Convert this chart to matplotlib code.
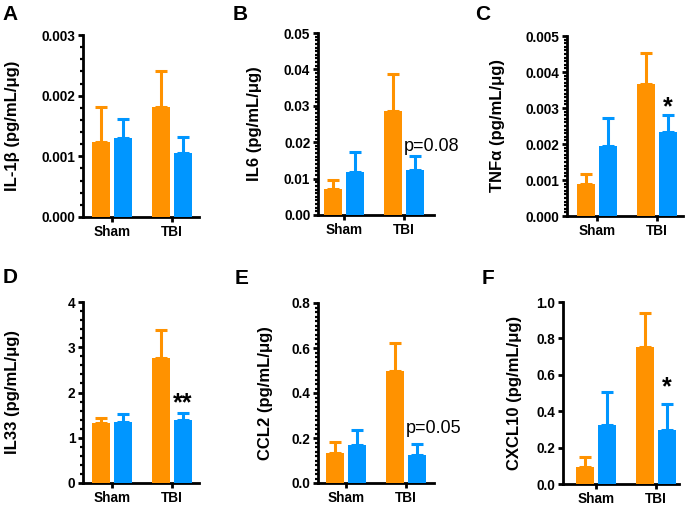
import matplotlib
matplotlib.use("Agg")
import matplotlib.pyplot as plt
from matplotlib.ticker import MultipleLocator, FormatStrFormatter
import numpy as np

plt.rcParams['font.family'] = ['Liberation Sans', 'DejaVu Sans']

groups = ["Sham", "TBI"]

# panel data: means and upper SEM for the two series (orange, blue)
A_orange = [0.00124, 0.00181]; A_orange_err = [0.00057, 0.00060]
A_blue = [0.00131, 0.00105];   A_blue_err = [0.00031, 0.00027]
B_orange = [0.0072, 0.0285];   B_orange_err = [0.0024, 0.0103]
B_blue = [0.0117, 0.0123];     B_blue_err = [0.0056, 0.0038]
C_orange = [0.00090, 0.00367]; C_orange_err = [0.00028, 0.00086]
C_blue = [0.00194, 0.00234];   C_blue_err = [0.00078, 0.00047]
D_orange = [1.33, 2.76];       D_orange_err = [0.11, 0.62]
D_blue = [1.35, 1.39];         D_blue_err = [0.17, 0.15]
E_orange = [0.135, 0.496];     E_orange_err = [0.049, 0.128]
E_blue = [0.167, 0.123];       E_blue_err = [0.070, 0.052]
F_orange = [0.092, 0.755];     F_orange_err = [0.057, 0.184]
F_blue = [0.322, 0.298];       F_blue_err = [0.181, 0.140]

ylabels = ["IL-1β (pg/mL/μg)", "IL6 (pg/mL/μg)", "TNFα (pg/mL/μg)",
           "IL33 (pg/mL/μg)", "CCL2 (pg/mL/μg)", "CXCL10 (pg/mL/μg)"]
letters = ["A", "B", "C", "D", "E", "F"]
ymax = [0.003, 0.05, 0.005, 4, 0.8, 1.0]
ymajor = [0.001, 0.01, 0.001, 1, 0.2, 0.2]
yminor = [0.0002, 0.001, 0.0001, 0.2, 0.02, None]
yfmt = ["%.3f", "%.2f", "%.3f", "%d", "%.1f", "%.1f"]
annots = [None, ("p=0.08", 0.0187), ("*", 0.00283), ("**", 1.61), ("p=0.05", 0.244), ("*", 0.495)]

series = [(A_orange, A_orange_err, A_blue, A_blue_err),
          (B_orange, B_orange_err, B_blue, B_blue_err),
          (C_orange, C_orange_err, C_blue, C_blue_err),
          (D_orange, D_orange_err, D_blue, D_blue_err),
          (E_orange, E_orange_err, E_blue, E_blue_err),
          (F_orange, F_orange_err, F_blue, F_blue_err)]

ORANGE = "#FF9200"
BLUE = "#0096FF"

W, H = 685, 505
fig = plt.figure(figsize=(W / 100, H / 100), dpi=100)

# layout in pixels: axis left, axis top, axis bottom, sham tick offset, label right edge, letter x, letter y
layout = [
    (83, 35, 217, 29, 20, 2, 5),
    (318, 33, 215, 26, 262, 233, 5),
    (567, 36, 216, 30, 505, 475, 5),
    (83, 302, 483, 29, 20, 3, 268),
    (318, 303, 483, 28, 273, 235, 269),
    (563, 302, 484, 33, 522, 482, 269),
]
axw = 116
spacing = 60.0

for i in range(6):
    left, top, bot, off, lab_r, lx, ly = layout[i]
    ax = fig.add_axes([left / W, (H - bot) / H, axw / W, (bot - top) / H])
    o, oe, b, be = series[i]
    x = np.arange(len(groups))
    d = 11 / spacing
    bw = 18 / spacing
    ax.bar(x - d, o, bw, color=ORANGE, zorder=3)
    ax.bar(x + d, b, bw, color=BLUE, zorder=3)
    ax.errorbar(x - d, o, yerr=[np.zeros(len(o)), oe], fmt='none', ecolor=ORANGE,
                elinewidth=2.2, capsize=4.5, capthick=2.2, zorder=2)
    ax.errorbar(x + d, b, yerr=[np.zeros(len(b)), be], fmt='none', ecolor=BLUE,
                elinewidth=2.2, capsize=4.5, capthick=2.2, zorder=2)
    xl = -off / spacing
    ax.set_xlim(xl, xl + axw / spacing)
    ax.set_ylim(0, ymax[i])
    ax.set_xticks(x)
    ax.set_xticklabels(groups, fontweight='bold', fontsize=9.8)
    ax.yaxis.set_major_locator(MultipleLocator(ymajor[i]))
    ax.yaxis.set_major_formatter(FormatStrFormatter(yfmt[i]))
    if yminor[i]:
        ax.yaxis.set_minor_locator(MultipleLocator(yminor[i]))
    for t in ax.get_yticklabels():
        t.set_fontweight('bold')
        t.set_fontsize(9.8)
    for s in ['top', 'right']:
        ax.spines[s].set_visible(False)
    for s in ['left', 'bottom']:
        ax.spines[s].set_linewidth(2.0)
    ax.tick_params(axis='both', which='major', length=3.5, width=2.0, pad=2)
    ax.tick_params(axis='x', which='major', pad=2)
    ax.tick_params(axis='y', which='minor', length=2.2, width=1.6)
    ax.set_ylabel(ylabels[i], fontweight='bold', fontsize=12)
    ax.yaxis.set_label_coords((lab_r - left) / axw, 0.5)
    fig.text(lx / W, 1 - ly / H, letters[i], fontweight='bold', fontsize=15,
             ha='left', va='top')
    an = annots[i]
    if an:
        txt, yv = an
        if txt.startswith("p"):
            ax.text(1.0, yv, txt, fontsize=13, ha='left', va='center', clip_on=False)
        else:
            ax.text(1 + d, yv, txt, fontsize=18, fontweight='bold', ha='center',
                    va='baseline', clip_on=False)

fig.savefig("out.png", dpi=100)
